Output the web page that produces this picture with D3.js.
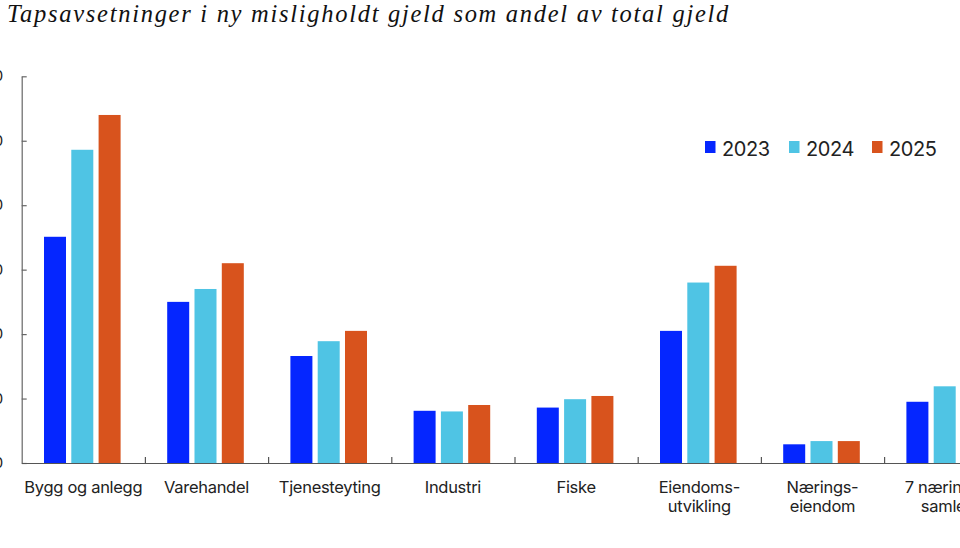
<!DOCTYPE html>
<html>
<head>
<meta charset="utf-8">
<script src="https://cdn.jsdelivr.net/npm/d3@7"></script>
<style>
  body { margin: 0; background: #fff; }
  svg { display: block; }
  .title { font-family: "Liberation Serif", "Times New Roman", Times, serif; font-style: italic; fill: #111; }
  .cat, .legend text { font-family: Inter, "Noto Sans", sans-serif; fill: #222; }
  .ytick { font-family: Inter, sans-serif; fill: #222; }
</style>
</head>
<body>
<svg width="960" height="548"></svg>
<script>
var width = 960,
    height = 548,
    marginLeft = 21.7,
    groupWidth = 123.2,
    baseline = 463,
    plotTop = 76.3;

// categories (line breaks as in the original)
var categories = [
  ["Bygg og anlegg"],
  ["Varehandel"],
  ["Tjenesteyting"],
  ["Industri"],
  ["Fiske"],
  ["Eiendoms-", "utvikling"],
  ["Nærings-", "eiendom"],
  ["7 næringer", "samlet"]
];
var years = ["2023", "2024", "2025"];
var colors = ["#0526ff", "#4fc4e4", "#d8531d"];

// values, prosent
var v2023 = [35.1, 25.0, 16.6, 8.1, 8.6, 20.5, 2.9, 9.5];
var v2024 = [48.6, 27.0, 18.9, 8.0, 9.9, 28.0, 3.4, 11.9];
var v2025 = [54.0, 31.0, 20.5, 9.0, 10.4, 30.6, 3.4, 12.6];
var yTicks = [0, 10, 20, 30, 40, 50, 60];

var series = [v2023, v2024, v2025];
var svg = d3.select("svg");

var title = svg.append("text")
    .attr("class", "title")
    .attr("x", 7)
    .attr("y", 22)
    .attr("font-size", 24.5)
    .text("Tapsavsetninger i ny misligholdt gjeld som andel av total gjeld");
// stretch to the width of the original title
var tw = title.node().getComputedTextLength();
title.attr("letter-spacing", (723 - tw) / 63);

var x0 = d3.scaleBand()
    .domain(d3.range(categories.length))
    .range([marginLeft, marginLeft + groupWidth * categories.length])
    .paddingInner(0).paddingOuter(0);

var x1 = d3.scaleBand()
    .domain(years)
    .range([22.3, 22.3 + 76.6])
    .paddingInner(0.194);

var y = d3.scaleLinear()
    .domain([0, 60])
    .range([baseline, plotTop]);

// bars
var group = svg.append("g").selectAll("g")
    .data(categories.map(function(c, i) { return i; }))
  .enter().append("g")
    .attr("transform", function(i) { return "translate(" + x0(i) + ",0)"; });

group.selectAll("rect")
    .data(function(i) { return years.map(function(yr, k) { return {year: yr, k: k, value: series[k][i]}; }); })
  .enter().append("rect")
    .attr("x", function(d) { return x1(d.year); })
    .attr("width", x1.bandwidth())
    .attr("y", function(d) { return y(d.value); })
    .attr("height", function(d) { return baseline - y(d.value); })
    .attr("fill", function(d) { return colors[d.k]; });

// y axis (labels cut at left edge like in the original)
var yAxis = svg.append("g")
    .attr("transform", "translate(" + marginLeft + ",0)")
    .call(d3.axisRight(y).tickValues(yTicks).tickSize(5).tickSizeOuter(0).tickFormat(""));
yAxis.select(".domain").attr("stroke", "#666").attr("stroke-width", 1.2);
yAxis.selectAll(".tick line").attr("stroke", "#666").attr("stroke-width", 1.2);

svg.append("g").selectAll("text")
    .data(yTicks)
  .enter().append("text")
    .attr("class", "ytick")
    .attr("x", 3.3)
    .attr("y", function(d) { return y(d) + 5; })
    .attr("text-anchor", "end")
    .attr("font-size", 15)
    .text(function(d) { return d; });

// x axis
var boundaries = d3.range(categories.length + 1).map(function(i) { return marginLeft + i * groupWidth; });
var xb = d3.scaleLinear().domain([marginLeft, width + 60]).range([marginLeft, width + 60]);
var xAxis = svg.append("g")
    .attr("transform", "translate(0," + baseline + ")")
    .call(d3.axisTop(xb).tickValues(boundaries.slice(1)).tickSize(6).tickSizeOuter(0).tickFormat(""));
xAxis.select(".domain").attr("stroke", "#555").attr("stroke-width", 1.2);
xAxis.selectAll(".tick line").attr("stroke", "#555").attr("stroke-width", 1.2);

var labels = svg.append("g").selectAll("text")
    .data(categories)
  .enter().append("text")
    .attr("class", "cat")
    .attr("font-size", 16.5)
    .attr("letter-spacing", -0.3)
    .attr("text-anchor", "middle")
    .attr("x", function(d, i) { return x0(i) + groupWidth / 2; })
    .attr("y", 492.5);

labels.selectAll("tspan")
    .data(function(d) { return d; })
  .enter().append("tspan")
    .attr("x", function() { return d3.select(this.parentNode).attr("x"); })
    .attr("dy", function(d, j) { return j ? 19.5 : 0; })
    .text(function(d) { return d; });

// legend
var legendX = [705, 789, 872];
var legend = svg.append("g").attr("class", "legend").selectAll("g")
    .data(years)
  .enter().append("g")
    .attr("transform", function(d, i) { return "translate(" + legendX[i] + ",141)"; });

legend.append("rect")
    .attr("width", 10.5).attr("height", 12)
    .attr("fill", function(d, i) { return colors[i]; });

legend.append("text")
    .attr("x", 17)
    .attr("y", 14.5)
    .attr("font-size", 20)
    .attr("letter-spacing", -0.4)
    .text(function(d) { return d; });
</script>
</body>
</html>
